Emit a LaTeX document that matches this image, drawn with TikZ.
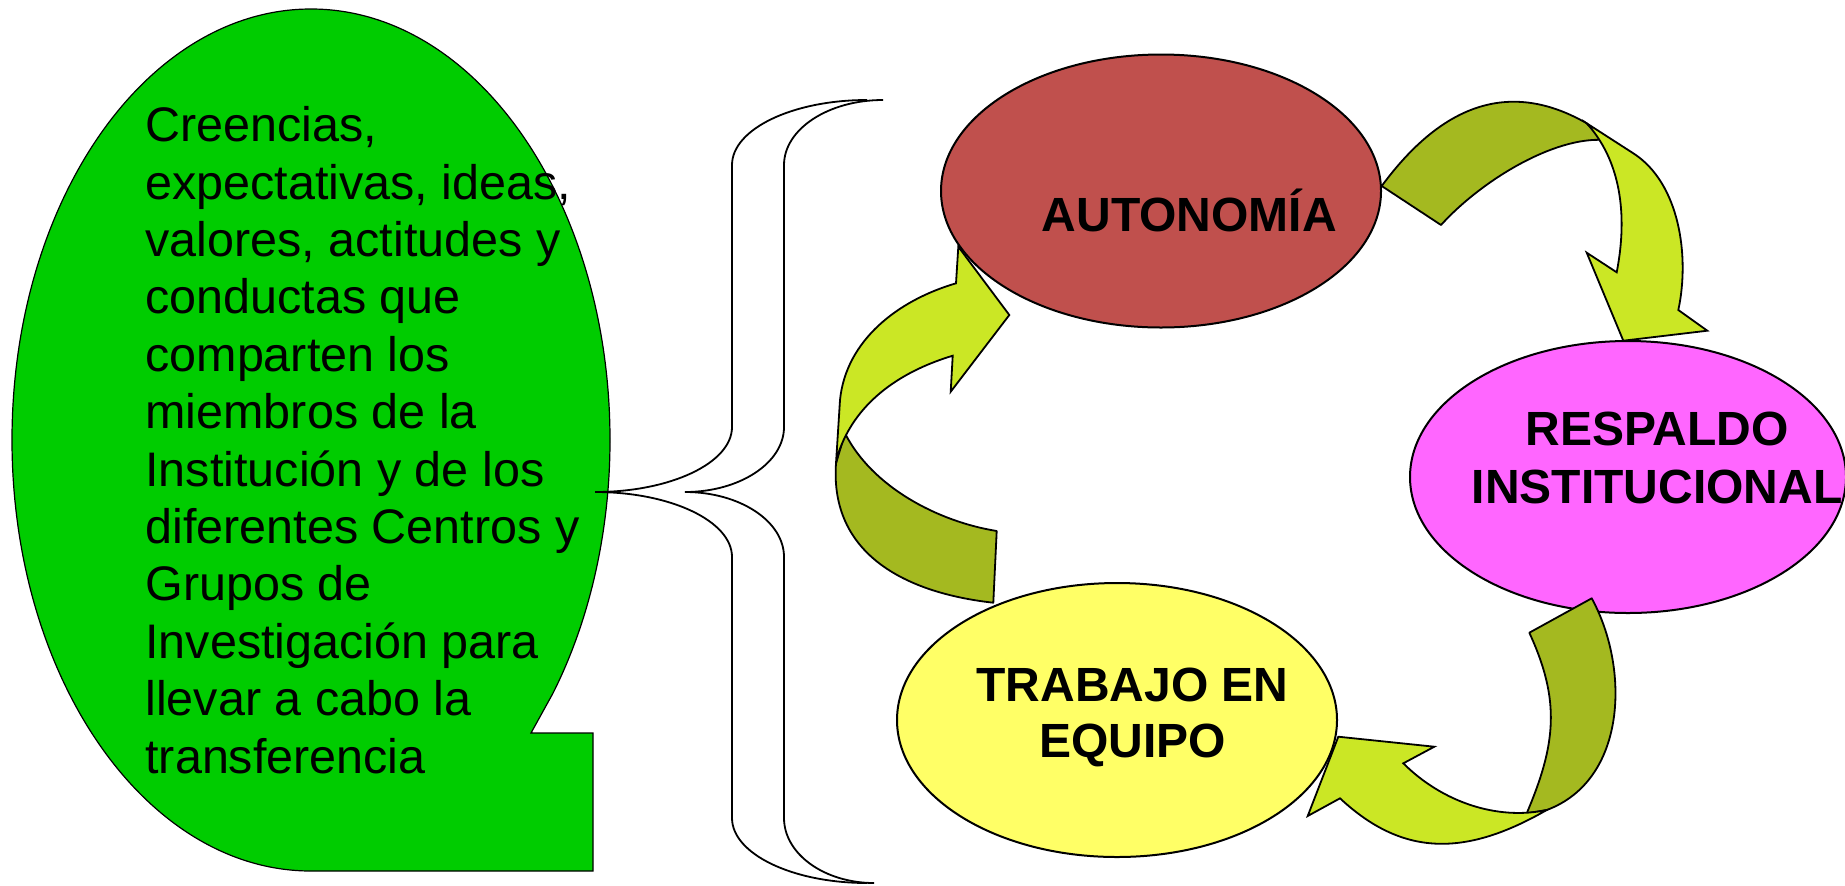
\documentclass[tikz,border=0pt]{standalone}
\usepackage{fontspec}
\setmainfont{Liberation Sans}
\usetikzlibrary{shapes.geometric}
\definecolor{cGreen}{HTML}{00CC00}
\definecolor{cRed}{HTML}{C0504D}
\definecolor{cMag}{HTML}{FF66FF}
\definecolor{cYel}{HTML}{FFFF66}
\definecolor{arrLight}{HTML}{CBE725}
\definecolor{arrDark}{HTML}{A4B920}
\tikzset{
  ell/.style={ellipse, draw=black, line width=1pt, inner sep=0pt},
  lbl/.style={font=\fontsize{24pt}{28.5pt}\selectfont\bfseries, inner sep=0pt, anchor=base},
  darkarr/.style={draw=black, line width=0.9pt, fill=arrDark, line join=round},
  lightarr/.style={draw=black, line width=0.9pt, fill=arrLight, line join=miter},
  bracel/.style={draw=black, line width=0.9pt},
  greenshape/.style={draw=black, line width=0.6pt, fill=cGreen},
}
\begin{document}
\begin{tikzpicture}[x=0.5pt, y=-0.5pt]
\useasboundingbox (0,0) rectangle (1845,885);

% green callout shape
\path[greenshape] (531,733) -- (593,733) -- (593,871) -- (311,871)
  arc[start angle=90, end angle=396.1, x radius=299, y radius=431] -- cycle;
\node[anchor=base west, inner sep=0pt, font=\fontsize{24.25pt}{28.7pt}\selectfont] (gtext) at (145,141.7)
  {\begin{tabular}[t]{@{}l@{}}Creencias,\\expectativas, ideas,\\valores, actitudes y\\conductas que\\comparten los\\miembros de la\\Institución y de los\\diferentes Centros y\\Grupos de\\Investigación para\\llevar a cabo la\\transferencia\end{tabular}};

% braces
\path[bracel] (867,100) arc[start angle=270, end angle=180, x radius=135, y radius=65]
  -- (732,427) arc[start angle=0, end angle=90, x radius=137, y radius=65]
  arc[start angle=270, end angle=360, x radius=137, y radius=65]
  -- (732,818) arc[start angle=180, end angle=90, x radius=135, y radius=65];
\path[bracel] (883,100) arc[start angle=270, end angle=180, x radius=99, y radius=65]
  -- (784,427) arc[start angle=0, end angle=90, x radius=99, y radius=65]
  arc[start angle=270, end angle=360, x radius=99, y radius=65]
  -- (784,818) arc[start angle=180, end angle=90, x radius=90, y radius=65];

% ellipses
\node[ell, fill=cRed, minimum width=220pt, minimum height=136.5pt] (auto) at (1161,191) {};
\node[ell, fill=cMag, minimum width=218pt, minimum height=136pt] (resp) at (1628,477) {};
\node[ell, fill=cYel, minimum width=220pt, minimum height=137pt] (trab) at (1117,720) {};

\node[lbl] (autoT) at (1189.3,231.7) {AUTONOMÍA};
\node[lbl, font=\fontsize{24pt}{29.15pt}\selectfont\bfseries] (respT) at (1657,445)
  {\begin{tabular}[t]{@{}c@{}}RESPALDO\\INSTITUCIONAL\end{tabular}};
\node[lbl, font=\fontsize{24pt}{27.8pt}\selectfont\bfseries] (trabT) at (1132.5,701.7)
  {\begin{tabular}[t]{@{}c@{}}TRABAJO EN\\EQUIPO\end{tabular}};

% arrow 1: autonomia -> respaldo
\path[darkarr] (1381.7,186) .. controls (1448,96) and (1517.1,83.3) .. (1586.7,123.3)
  -- (1604,140) .. controls (1554,136.5) and (1481.2,180.6) .. (1441,225) -- cycle;
\path[lightarr] (1586.7,123.3) -- (1633.3,153.3) .. controls (1679.5,183) and (1689.9,256.1) .. (1678.3,310)
  -- (1707.3,330.7) -- (1623.3,340.7) -- (1586.7,252.7) -- (1616.7,272.3)
  .. controls (1628.1,213.5) and (1620.2,160.3) .. (1586.7,123.3) -- cycle;

% arrow 2: respaldo -> trabajo
\path[darkarr] (1529.3,632.7) -- (1591.7,598.3) .. controls (1630.1,668.7) and (1626.6,780.3) .. (1546.7,810)
  -- (1526.7,813.3) .. controls (1555.9,744.3) and (1560.8,701) .. (1529.3,632.7) -- cycle;
\path[lightarr] (1546.7,810) .. controls (1464.1,857.5) and (1402,856.1) .. (1340,798.3)
  -- (1307.7,816) -- (1338.3,736.7) -- (1434.3,746.7) -- (1403.3,763.3)
  .. controls (1442.4,802.4) and (1497.7,820.5) .. (1546.7,810) -- cycle;

% arrow 3: trabajo -> autonomia
\path[darkarr] (996.7,531) -- (993.3,602.7) .. controls (904.2,592.8) and (829.7,553.3) .. (836,463.3)
  -- (845,433.3) .. controls (872,486.7) and (937.3,521.4) .. (996.7,531) -- cycle;
\path[lightarr] (836,463.3) -- (840,400) .. controls (846,340) and (898.4,300.1) .. (956,283.3)
  -- (958.3,246.7) -- (1009.3,315) -- (950.7,391.7) -- (952.7,355.7)
  .. controls (895.1,373.1) and (854.3,405.8) .. (838.3,453.3) -- cycle;
\end{tikzpicture}
\end{document}
